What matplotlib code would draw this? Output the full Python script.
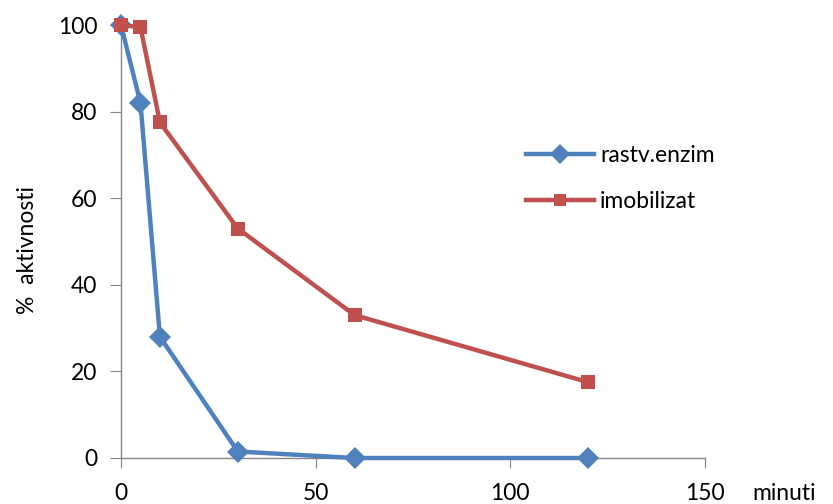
import matplotlib
matplotlib.use("Agg")
import matplotlib.pyplot as plt
from matplotlib.lines import Line2D

plt.rcParams['font.family'] = ['Lato', 'DejaVu Sans']

minutes = [0, 5, 10, 30, 60, 120]
rastv_enzim = [100, 82, 28, 1.5, 0, 0]
imobilizat = [100, 99.5, 77.5, 53, 33, 17.5]
series_names = ["rastv.enzim", "imobilizat"]
x_ticks = [0, 50, 100, 150]
y_ticks = [0, 20, 40, 60, 80, 100]

blue = "#4F81BD"
red = "#C0504D"
axis_gray = "#868686"

fig = plt.figure(figsize=(8.33, 5.04), dpi=100)
ax = fig.add_axes([121/833, 1-458/504, (705-121)/833, (458-25)/504])

ax.plot(minutes, rastv_enzim, color=blue, lw=3.2, marker="D", markersize=11,
        markeredgewidth=0, clip_on=False, zorder=3, label=series_names[0])
ax.plot(minutes, imobilizat, color=red, lw=3.2, marker="s", markersize=10,
        markeredgewidth=0, clip_on=False, zorder=4, label=series_names[1])

ax.set_xlim(0, 150)
ax.set_ylim(0, 100)
ax.set_xticks(x_ticks)
ax.set_yticks(y_ticks)
for s in ["top", "right"]:
    ax.spines[s].set_visible(False)
for s in ["left", "bottom"]:
    ax.spines[s].set_color(axis_gray)
    ax.spines[s].set_linewidth(1)
ax.tick_params(axis="y", direction="out", length=8, color=axis_gray, labelsize=16.5, pad=9)
ax.tick_params(axis="x", direction="out", length=7, color=axis_gray, labelsize=16.5, pad=11)

fig.text(28/833, 1-250/504, "%  aktivnosti", rotation=90, ha="center", va="center", fontsize=16.5)
fig.text(752/833, 1-494/504, "minuti", ha="left", va="center", fontsize=16.5)

handles = [Line2D([0], [0], color=blue, lw=3.2, marker="D", markersize=10, markeredgewidth=0),
           Line2D([0], [0], color=red, lw=3.2, marker="s", markersize=9, markeredgewidth=0)]
fig.legend(handles, series_names, loc="upper left", bbox_to_anchor=(505/833, 1-124/504),
           frameon=False, fontsize=16.5, handlelength=3.0, handletextpad=0.25, labelspacing=1.1)

fig.savefig("out.png", dpi=100)
